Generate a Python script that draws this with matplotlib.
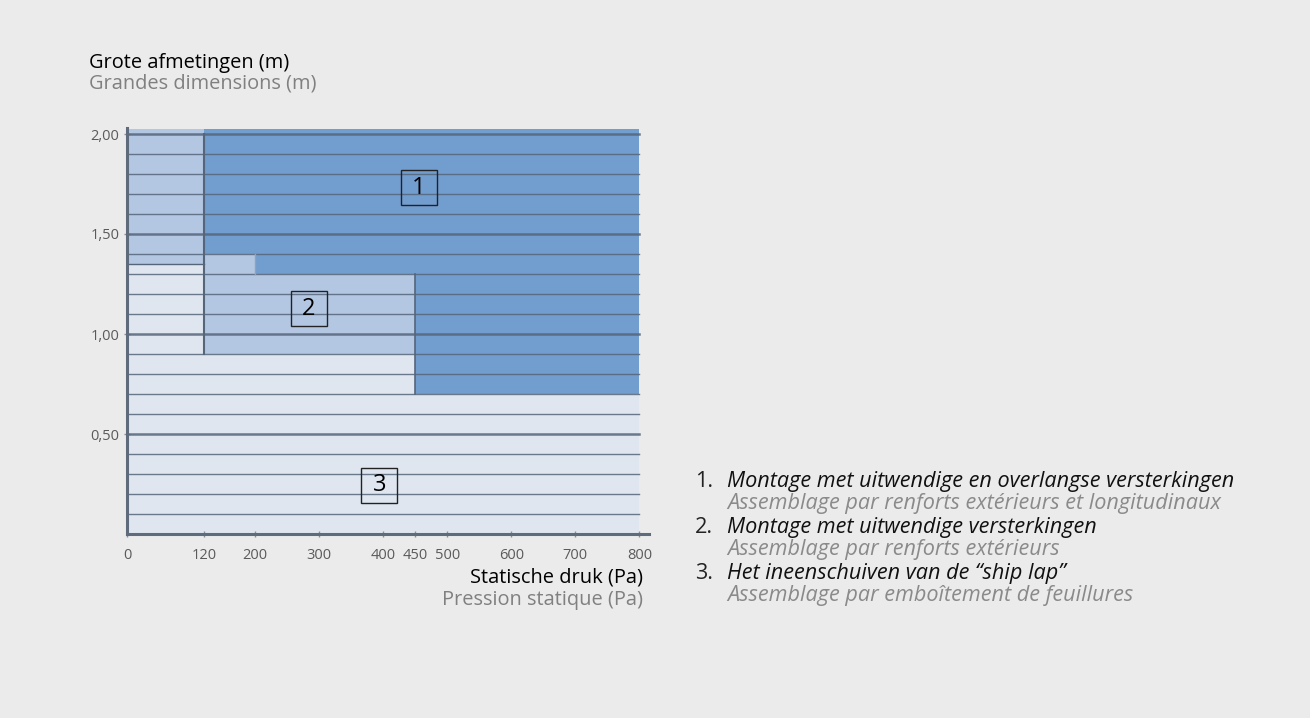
import matplotlib.pyplot as plt
from matplotlib.patches import Polygon, Rectangle

# region outlines (druk Pa, afmeting m)
zone1_x = [120, 800, 800, 450, 450, 200, 200, 120]
zone1_y = [2.0, 2.0, 0.7, 0.7, 1.3, 1.3, 1.4, 1.4]
zone2_x = [0, 120, 120, 200, 200, 450, 450, 120, 120, 0]
zone2_y = [2.0, 2.0, 1.4, 1.4, 1.3, 1.3, 0.9, 0.9, 1.35, 1.35]
zone3_x = [0, 800, 800, 450, 450, 120, 120, 0]
zone3_y = [0, 0, 0.7, 0.7, 0.9, 0.9, 1.35, 1.35]

xticks = [0, 120, 200, 300, 400, 450, 500, 600, 700, 800]
yticks = [0.5, 1.0, 1.5, 2.0]
ylabels = ['0,50', '1,00', '1,50', '2,00']

labels = [('1', 456, 1.7325), ('2', 284, 1.125), ('3', 394, 0.245)]

legend_nl = ['Montage met uitwendige en overlangse versterkingen',
             'Montage met uitwendige versterkingen',
             'Het ineenschuiven van de \u201cship lap\u201d']
legend_fr = ['Assemblage par renforts ext\u00e9rieurs et longitudinaux',
             'Assemblage par renforts ext\u00e9rieurs',
             'Assemblage par embo\u00eetement de feuillures']

plt.rcParams['font.family'] = ['Open Sans', 'DejaVu Sans']
bg = '#ebebeb'
linec = '#55657a'

fig = plt.figure(figsize=(13.1, 7.18), dpi=100, facecolor=bg)
ax = fig.add_axes([127 / 1310, 184 / 718, 522 / 1310, 406 / 718])
ax.set_facecolor(bg)

for xs, ys, col in [(zone3_x, zone3_y, '#dfe6ef'), (zone2_x, zone2_y, '#b3c7e2'),
                    (zone1_x, zone1_y, '#729dcf')]:
    ax.add_patch(Polygon(list(zip(xs, ys)), closed=True, facecolor=col, edgecolor='none', zorder=1))
# extend fill slightly above the 2,00 line
ax.fill_between([0, 120], 2.0, 2.025, color='#b3c7e2', lw=0, zorder=1)
ax.fill_between([120, 800], 2.0, 2.025, color='#729dcf', lw=0, zorder=1)

for i in range(1, 21):
    y = i / 10
    major = i % 5 == 0
    ax.plot([0, 800], [y, y], color=linec, lw=1.8 if major else 1.0, alpha=0.85, zorder=2)

# region borders
ax.plot([120, 120], [0.9, 2.0], color=linec, lw=1.5, zorder=3)
ax.plot([450, 450], [0.7, 1.3], color=linec, lw=1.2, zorder=3)
ax.plot([0, 120], [1.35, 1.35], color=linec, lw=1.0, zorder=3)
ax.plot([200, 200], [1.3, 1.4], color='#8fa3bd', lw=1.0, zorder=3)

# numbered boxes, about 36 px square
bw, bh = 56, 0.175
for t, x, y in labels:
    ax.add_patch(Rectangle((x - bw / 2, y - bh / 2), bw, bh, fc='none', ec='#222222', lw=1.0, zorder=4))
    ax.text(x, y, t, fontsize=17, ha='center', va='center', color='black', zorder=4)

ax.set_xlim(0, 815)
ax.set_ylim(0, 2.03)
for s in ['top', 'right']:
    ax.spines[s].set_visible(False)
for s in ['left', 'bottom']:
    ax.spines[s].set_color('#5d6b7d')
    ax.spines[s].set_linewidth(2.2)
    ax.spines[s].set_zorder(5)
ax.set_xticks(xticks)
ax.set_yticks(yticks)
ax.set_yticklabels(ylabels)
ax.tick_params(axis='both', colors='#8a8f96', labelcolor='#5a5a5a', labelsize=10.5,
               direction='inout', length=4, width=1)
ax.tick_params(axis='x', pad=8)

fs = 14.4
fig.text(89 / 1310, 1 - 68 / 718, 'Grote afmetingen (m)', fontsize=fs, color='black', va='baseline')
fig.text(89 / 1310, 1 - 89 / 718, 'Grandes dimensions (m)', fontsize=fs, color='#808080', va='baseline')
fig.text(643 / 1310, 1 - 583 / 718, 'Statische druk (Pa)', fontsize=fs, color='black', va='baseline', ha='right')
fig.text(643 / 1310, 1 - 605 / 718, 'Pression statique (Pa)', fontsize=fs, color='#808080', va='baseline', ha='right')

lfs = 15.6
for i in range(3):
    y0 = 487 + i * 46
    fig.text(695 / 1310, 1 - y0 / 718, f'{i + 1}.', fontsize=lfs, color='#222222', va='baseline')
    fig.text(727 / 1310, 1 - y0 / 718, legend_nl[i], fontsize=lfs, style='italic',
             color='#111111', va='baseline')
    fig.text(727 / 1310, 1 - (y0 + 22) / 718, legend_fr[i], fontsize=lfs, style='italic',
             color='#8a8a8a', va='baseline')

fig.savefig('out.png', dpi=100, facecolor=bg)
